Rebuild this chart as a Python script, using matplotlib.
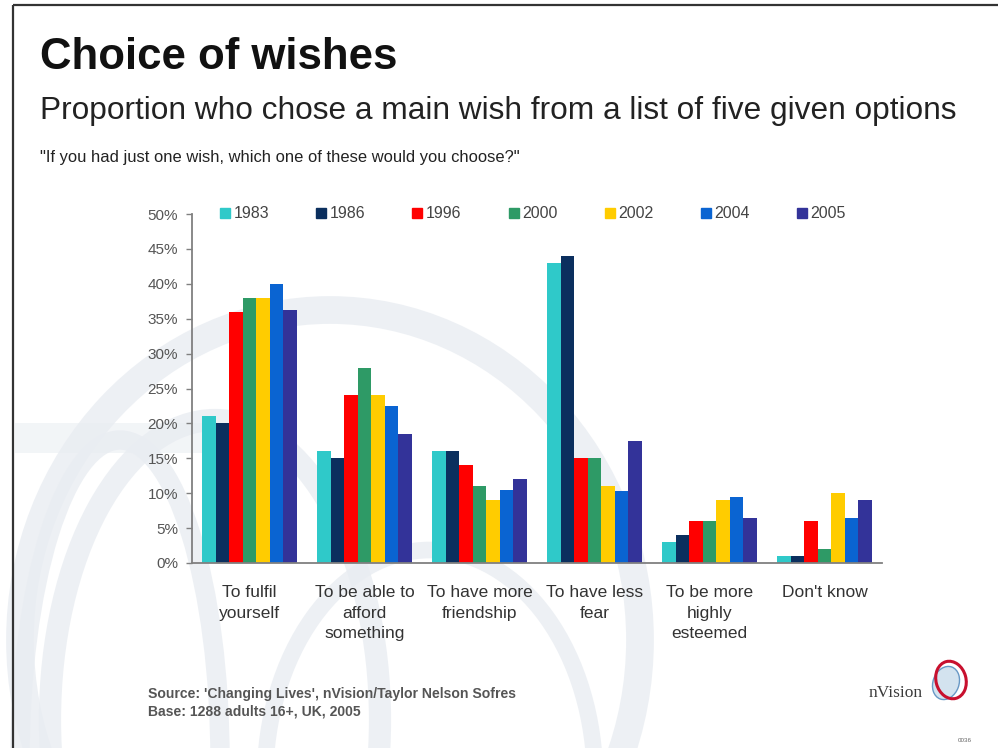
import matplotlib
matplotlib.use("Agg")
import matplotlib.pyplot as plt
from matplotlib.patches import Ellipse, Rectangle
from matplotlib.lines import Line2D
import numpy as np

plt.rcParams['font.family'] = ['Liberation Sans', 'DejaVu Sans']

# ---- data -------------------------------------------------------------
categories = ["To fulfil\nyourself", "To be able to\nafford\nsomething",
              "To have more\nfriendship", "To have less\nfear",
              "To be more\nhighly\nesteemed", "Don't know"]
years = ["1983", "1986", "1996", "2000", "2002", "2004", "2005"]
values = {
    "1983": [21, 16, 16, 43, 3, 1],
    "1986": [20, 15, 16, 44, 4, 1],
    "1996": [36, 24, 14, 15, 6, 6],
    "2000": [38, 28, 11, 15, 6, 2],
    "2002": [38, 24, 9, 11, 9, 10],
    "2004": [40, 22.5, 10.5, 10.3, 9.5, 6.5],
    "2005": [36.3, 18.5, 12, 17.5, 6.5, 9],
}
colors = ["#2FC9C9", "#0B2F5E", "#FF0000", "#2E9A66", "#FFCC00", "#0A64D2", "#333399"]
yticks = [0, 5, 10, 15, 20, 25, 30, 35, 40, 45, 50]

W, H = 998, 748
fig = plt.figure(figsize=(W / 100, H / 100), dpi=100)
fig.patch.set_facecolor("white")

# ---- background layer in pixel coordinates ----------------------------
bg = fig.add_axes([0, 0, 1, 1], zorder=0)
bg.set_xlim(0, W)
bg.set_ylim(H, 0)
bg.axis("off")

swirl = "#E9EDF2"
for (cx, cy, w, h, lw) in [(330, 640, 620, 660, 20),
                           (215, 720, 330, 600, 16),
                           (430, 780, 330, 460, 12),
                           (120, 760, 200, 640, 14)]:
    bg.add_patch(Ellipse((cx, cy), w, h, fill=False, ec=swirl, lw=lw, alpha=0.8))
bg.add_patch(Rectangle((15, 423), 190, 30, fc=swirl, ec="none", alpha=0.55))

# frame lines at top and left
bg.plot([13, W], [5, 5], color="#333333", lw=1.6, solid_capstyle="butt")
bg.plot([13, 13], [5, H], color="#333333", lw=1.6, solid_capstyle="butt")

# logo
bg.text(896, 693, "nVision", family=["Liberation Serif", "DejaVu Serif"],
        fontsize=12.5, color="#3A3A3A", ha="center", va="center")
bg.add_patch(Ellipse((946, 683), 26, 34, angle=20, fc="#CFE0EE", ec="#5A8FC0",
                     lw=1.0, alpha=0.9))
bg.add_patch(Ellipse((951, 680), 30, 38, angle=-15, fill=False, ec="#C8102E", lw=2.2))
bg.text(965, 741, "0036", fontsize=4.5, color="#666666", ha="center", va="center")

# ---- titles -----------------------------------------------------------
bg.text(40, 57, "Choice of wishes", fontsize=31.5, fontweight="bold",
        color="#111111", ha="left", va="center")
bg.text(40, 111, "Proportion who chose a main wish from a list of five given options",
        fontsize=22.8, color="#222222", ha="left", va="center")
bg.text(40, 157, "\"If you had just one wish, which one of these would you choose?\"",
        fontsize=11.9, color="#222222", ha="left", va="center")
bg.text(148, 694, "Source: 'Changing Lives', nVision/Taylor Nelson Sofres",
        fontsize=10.1, fontweight="bold", color="#555555", ha="left", va="center")
bg.text(148, 712, "Base: 1288 adults 16+, UK, 2005",
        fontsize=10.1, fontweight="bold", color="#555555", ha="left", va="center")

# ---- chart ------------------------------------------------------------
left, right, bottom, top = 192, 882, 563, 214
ax = fig.add_axes([left / W, 1 - bottom / H, (right - left) / W, (bottom - top) / H],
                  zorder=2)
ax.patch.set_alpha(0)

x = np.arange(len(categories))
bw = 0.117
for j, yr in enumerate(years):
    ax.bar(x + (j - 3) * bw, values[yr], width=bw, color=colors[j],
           label=yr, linewidth=0)

ax.set_xlim(-0.5, len(categories) - 0.5)
ax.set_ylim(0, 50)
ax.set_yticks(yticks)
ax.set_yticklabels([f"{t}%" for t in yticks])
ax.set_xticks(x)
ax.set_xticklabels(categories, fontsize=12.5, color="#333333", linespacing=1.45,
                   va="top")
ax.tick_params(axis="x", length=0, pad=16)
ax.tick_params(axis="y", length=4, width=1, color="#808080", pad=6,
               labelsize=11, labelcolor="#555555")
for s in ("top", "right"):
    ax.spines[s].set_visible(False)
for s in ("left", "bottom"):
    ax.spines[s].set_color("#808080")
    ax.spines[s].set_linewidth(1.3)

handles = [Line2D([], [], marker="s", linestyle="none", markersize=6.5,
                  markerfacecolor=c, markeredgecolor=c) for c in colors]
fig.legend(handles, years, ncol=7, loc="center left",
           bbox_to_anchor=(212 / W, 1 - 214 / H), frameon=False,
           fontsize=11.5, labelcolor="#444444", handlelength=0.6,
           handletextpad=0.25, columnspacing=2.95, borderpad=0)

fig.savefig("out.png", dpi=100, facecolor="white")
